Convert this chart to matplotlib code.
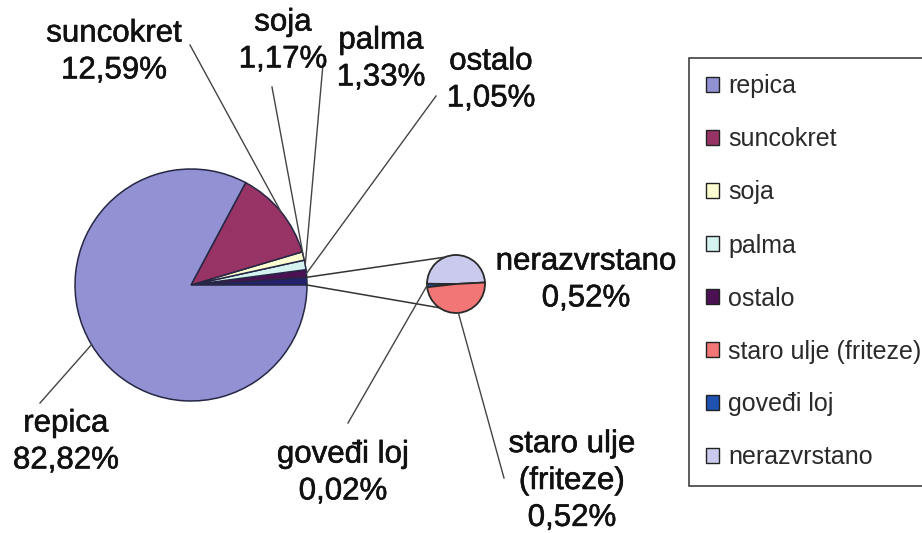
import numpy as np
import matplotlib.pyplot as plt
import matplotlib.patheffects as pe
from matplotlib.patches import Patch

plt.rcParams['font.family'] = ['Liberation Sans', 'DejaVu Sans']

# data (percent)
main_labels = ['repica', 'suncokret', 'soja', 'palma', 'ostalo']
main_values = [82.82, 12.59, 1.17, 1.33, 1.05]
sub_labels = ['nerazvrstano', 'goveđi loj', 'staro ulje (friteze)']
sub_values = [0.52, 0.02, 0.52]
legend_order = ['repica', 'suncokret', 'soja', 'palma', 'ostalo',
                'staro ulje (friteze)', 'goveđi loj', 'nerazvrstano']

colors = {
    'repica': '#9191d3',
    'suncokret': '#983465',
    'soja': '#fdfdd2',
    'palma': '#d4f2f0',
    'ostalo': '#4c1152',
    'staro ulje (friteze)': '#f27676',
    'goveđi loj': '#1f52b0',
    'nerazvrstano': '#cacaee',
}
other_color = '#22226e'

H = 533
def px(x, y):
    # pixel position (from top-left) -> data coords
    return x, H - y

fig = plt.figure(figsize=(9.22, 5.33), dpi=100)
ax = fig.add_axes([0, 0, 1, 1])

# main pie: combined slice first, then counterclockwise
other_total = sum(sub_values)
m_vals = [other_total] + main_values[::-1]
m_cols = [other_color] + [colors[l] for l in main_labels[::-1]]
m_names = ['other'] + main_labels[::-1]
mc = px(191, 285)
mr = 116
wedges, _ = ax.pie(m_vals, colors=m_cols, startangle=0, counterclock=True,
                   center=mc, radius=mr,
                   wedgeprops=dict(edgecolor='#262645', linewidth=1.1))

# secondary pie
sc = px(456, 284)
sr = 29
s_wedges, _ = ax.pie(sub_values, colors=[colors[l] for l in sub_labels],
                     startangle=3, counterclock=True, center=sc, radius=sr,
                     wedgeprops=dict(edgecolor='#2a2a2a', linewidth=1.3))

def rim(center, r, ang):
    a = np.deg2rad(ang)
    return center[0] + r * np.cos(a), center[1] + r * np.sin(a)

# connector lines between pies
ow = wedges[0]
p1 = rim(mc, mr, ow.theta2)
p2 = rim(mc, mr, ow.theta1)
q1 = rim(sc, sr, 112)
q2 = rim(sc, sr, 235)
ax.plot([p1[0], q1[0]], [p1[1], q1[1]], color='#333333', lw=1.1)
ax.plot([p2[0], q2[0]], [p2[1], q2[1]], color='#333333', lw=1.1)

def pct(v):
    return f'{v:.2f}%'.replace('.', ',')

# labels look a bit heavier in the original
bold_fx = [pe.withStroke(linewidth=0.4, foreground='#111111')]
label_font = dict(fontsize=22.5, color='#111111', ha='center', va='center',
                  linespacing=1.3, path_effects=bold_fx)

# label positions (pixel) and leader start points
main_lab_pos = {
    'suncokret': ((114, 52), (190, 45)),
    'soja': ((283, 41), (272, 87)),
    'palma': ((381, 59), (323, 64)),
    'ostalo': ((491, 80), (436, 96)),
    'repica': ((66, 442), (40, 403)),
}
for name, w in zip(m_names, wedges):
    if name == 'other':
        continue
    (tx, ty), (lx, ly) = main_lab_pos[name]
    val = main_values[main_labels.index(name)]
    ax.text(*px(tx, ty), f'{name}\n{pct(val)}', **label_font)
    mid = (w.theta1 + w.theta2) / 2
    ex, ey = rim(mc, mr, mid)
    sx, sy = px(lx, ly)
    ax.plot([sx, ex], [sy, ey], color='#444444', lw=1.0)

sub_lab_pos = {
    'nerazvrstano': ((586, 280), None),
    'goveđi loj': ((343, 473), (348, 423)),
    'staro ulje (friteze)': ((572, 481), (504, 478)),
}
for name, w in zip(sub_labels, s_wedges):
    (tx, ty), lead = sub_lab_pos[name]
    val = sub_values[sub_labels.index(name)]
    txt = name.replace(' (', '\n(')
    ax.text(*px(tx, ty), f'{txt}\n{pct(val)}', **label_font)
    if lead is not None:
        mid = (w.theta1 + w.theta2) / 2
        ex, ey = rim(sc, sr, mid)
        sx, sy = px(*lead)
        ax.plot([sx, ex], [sy, ey], color='#444444', lw=1.0)

# legend
handles = [Patch(facecolor=colors[l], edgecolor='#222222', linewidth=1.0)
           for l in legend_order]
leg = ax.legend(handles, legend_order, loc='upper left',
                bbox_to_anchor=(689 / 922, 1 - 58 / 533),
                bbox_transform=fig.transFigure,
                fontsize=18, frameon=True, fancybox=False,
                handlelength=0.55, handleheight=0.55, handletextpad=0.35,
                labelspacing=1.16, borderpad=0.66, borderaxespad=0)
leg.get_frame().set_edgecolor('#111111')
leg.get_frame().set_linewidth(1.2)
for t in leg.get_texts():
    t.set_color('#2a2a2a')

ax.set_xlim(0, 922)
ax.set_ylim(0, H)
ax.set_aspect('equal')
ax.axis('off')

fig.savefig('out.png', dpi=100)
